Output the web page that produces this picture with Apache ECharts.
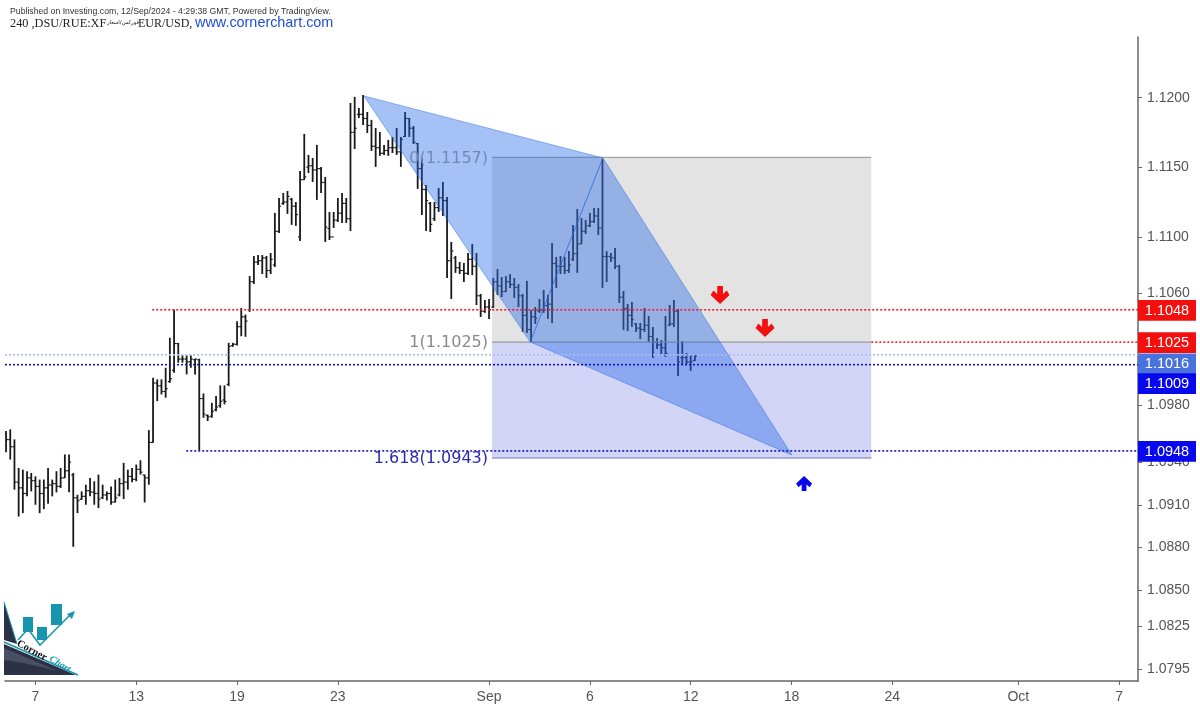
<!DOCTYPE html>
<html>
<head>
<meta charset="utf-8">
<style>html,body{margin:0;padding:0;background:#fff}#chart{width:1200px;height:709px}</style>
<script src="https://cdn.jsdelivr.net/npm/echarts@6/dist/echarts.min.js"></script>
</head>
<body>
<div id="chart"></div>
<script>
// 4h bars (bar number = trading slot on the time axis)
var opens = [
	1.09600,1.09560,1.09510,1.09260,1.09220,1.09180,1.09290,1.09270,1.09230,1.09180,
	1.09220,1.09240,1.09250,1.09230,1.09290,1.09340,1.09310,1.09150,1.09140,1.09160,
	1.09200,1.09190,1.09180,1.09150,1.09170,1.09180,1.09120,1.09170,1.09250,1.09260,
	1.09300,1.09280,1.09350,1.09310,1.09290,1.09540,1.09960,1.09940,1.09900,1.09970,
	1.10050,1.10240,1.10130,1.10130,1.10110,1.10125,1.10125,1.09850,1.09730,1.09725,
	1.09770,1.09800,1.09840,1.09950,1.10225,1.10235,1.10360,1.10430,1.10480,1.10680,
	1.10820,1.10830,1.10850,1.10760,1.10800,1.11040,1.11240,1.11250,1.11270,1.11220,
	1.11000,1.11410,1.11500,1.11510,1.11480,1.11490,1.11390,1.11060,1.11000,1.11120,
	1.11170,1.11240,1.11130,1.11750,1.11880,1.11880,1.11850,1.11800,1.11650,1.11640,
	1.11600,1.11620,1.11640,1.11640,1.11610,1.11720,1.11850,1.11780,1.11670,1.11490,
	1.11340,1.11240,1.11130,1.11210,1.11280,1.11260,1.10830,1.10850,1.10780,1.10760,
	1.10740,1.10840,1.10790,1.10580,1.10470,1.10500,1.10500,1.10680,1.10650,1.10610,
	1.10680,1.10660,1.10640,1.10580,1.10440,1.10340,1.10430,1.10470,1.10480,1.10510,
	1.10520,1.10810,1.10790,1.10790,1.10760,1.10840,1.10880,1.10950,1.11040,1.11080,
	1.11110,1.11150,1.11065,1.10860,1.10860,1.10850,1.10790,1.10570,1.10490,1.10440,
	1.10380,1.10350,1.10340,1.10370,1.10290,1.10250,1.10230,1.10210,1.10370,1.10380,
	1.10470,1.10140,1.10140,1.10110,1.10120
];
var highs = [
	1.09620,1.09632,1.09561,1.09360,1.09348,1.09337,1.09325,1.09301,1.09278,1.09278,
	1.09360,1.09278,1.09337,1.09360,1.09455,1.09455,1.09325,1.09171,1.09195,1.09242,
	1.09289,1.09266,1.09313,1.09242,1.09195,1.09230,1.09278,1.09289,1.09396,1.09348,
	1.09360,1.09384,1.09414,1.09313,1.09627,1.09997,1.09986,1.09986,1.10068,1.10281,
	1.10481,1.10245,1.10156,1.10156,1.10156,1.10132,1.10132,1.09886,1.09738,1.09820,
	1.09868,1.09943,1.09943,1.10245,1.10245,1.10399,1.10493,1.10446,1.10721,1.10864,
	1.10871,1.10871,1.10864,1.10885,1.11172,1.11279,1.11315,1.11329,1.11279,1.11250,
	1.11473,1.11739,1.11588,1.11566,1.11660,1.11502,1.11430,1.11179,1.11179,1.11279,
	1.11315,1.11279,1.11962,1.12006,1.11926,1.12020,1.11897,1.11840,1.11782,1.11753,
	1.11660,1.11696,1.11717,1.11782,1.11717,1.11897,1.11854,1.11796,1.11674,1.11566,
	1.11372,1.11250,1.11250,1.11351,1.11394,1.11286,1.10964,1.10864,1.10821,1.10814,
	1.10885,1.10950,1.10885,1.10593,1.10550,1.10557,1.10707,1.10771,1.10714,1.10721,
	1.10735,1.10707,1.10664,1.10593,1.10686,1.10479,1.10500,1.10557,1.10621,1.10586,
	1.10957,1.10857,1.10864,1.10857,1.10899,1.11086,1.11200,1.11135,1.11121,1.11172,
	1.11207,1.11207,1.11559,1.10899,1.10885,1.10921,1.10800,1.10614,1.10522,1.10536,
	1.10386,1.10386,1.10493,1.10436,1.10358,1.10280,1.10265,1.10436,1.10514,1.10550,
	1.10486,1.10258,1.10173,1.10159,1.10159
];
var lows = [
	1.09471,1.09419,1.09207,1.09018,1.09042,1.09160,1.09195,1.09101,1.09042,1.09070,
	1.09108,1.09160,1.09188,1.09219,1.09289,1.09188,1.08806,1.09042,1.09136,1.09101,
	1.09160,1.09101,1.09077,1.09141,1.09131,1.09101,1.09117,1.09160,1.09141,1.09207,
	1.09259,1.09266,1.09313,1.09117,1.09242,1.09537,1.09832,1.09879,1.09856,1.09962,
	1.10033,1.10104,1.10104,1.10021,1.10068,1.10021,1.09485,1.09714,1.09691,1.09714,
	1.09761,1.09785,1.09809,1.09938,1.10217,1.10226,1.10292,1.10288,1.10465,1.10664,
	1.10800,1.10735,1.10707,1.10735,1.10785,1.11028,1.11229,1.11165,1.11086,1.11079,
	1.10971,1.11408,1.11458,1.11394,1.11265,1.11315,1.10964,1.10978,1.11064,1.11107,
	1.11100,1.11100,1.11042,1.11631,1.11854,1.11804,1.11746,1.11617,1.11502,1.11581,
	1.11588,1.11581,1.11602,1.11588,1.11502,1.11717,1.11717,1.11667,1.11344,1.11157,
	1.11042,1.11035,1.11114,1.11179,1.11150,1.10707,1.10557,1.10743,1.10735,1.10678,
	1.10728,1.10728,1.10514,1.10429,1.10458,1.10415,1.10493,1.10586,1.10571,1.10607,
	1.10636,1.10564,1.10500,1.10322,1.10315,1.10251,1.10379,1.10458,1.10458,1.10415,
	1.10386,1.10636,1.10735,1.10735,1.10743,1.10828,1.10743,1.10950,1.11021,1.11071,
	1.11100,1.11014,1.10636,1.10678,1.10821,1.10771,1.10529,1.10336,1.10329,1.10358,
	1.10322,1.10272,1.10322,1.10251,1.10138,1.10202,1.10166,1.10145,1.10365,1.10358,
	1.10010,1.10095,1.10095,1.10046,1.10116
];
var closes = [
	1.09560,1.09510,1.09260,1.09220,1.09180,1.09290,1.09270,1.09230,1.09180,1.09220,
	1.09240,1.09250,1.09230,1.09290,1.09340,1.09400,1.09150,1.09130,1.09160,1.09200,
	1.09190,1.09180,1.09140,1.09170,1.09180,1.09120,1.09150,1.09250,1.09260,1.09300,
	1.09280,1.09350,1.09330,1.09290,1.09540,1.09960,1.09940,1.09900,1.09920,1.09990,
	1.10240,1.10130,1.10130,1.10110,1.10130,1.10130,1.09850,1.09740,1.09720,1.09760,
	1.09790,1.09830,1.09830,1.10220,1.10235,1.10360,1.10430,1.10400,1.10680,1.10820,
	1.10830,1.10850,1.10760,1.10840,1.11040,1.11220,1.11250,1.11290,1.11220,1.11160,
	1.11410,1.11430,1.11510,1.11480,1.11490,1.11390,1.11070,1.11000,1.11120,1.11170,
	1.11240,1.11130,1.11750,1.11780,1.11880,1.11850,1.11800,1.11650,1.11640,1.11600,
	1.11620,1.11640,1.11640,1.11610,1.11700,1.11850,1.11780,1.11680,1.11490,1.11340,
	1.11260,1.11090,1.11210,1.11280,1.11260,1.10830,1.10900,1.10780,1.10760,1.10740,
	1.10840,1.10790,1.10580,1.10470,1.10500,1.10480,1.10680,1.10650,1.10610,1.10680,
	1.10660,1.10640,1.10580,1.10440,1.10340,1.10430,1.10420,1.10480,1.10510,1.10520,
	1.10810,1.10790,1.10790,1.10760,1.10800,1.10880,1.10950,1.11040,1.11080,1.11110,
	1.11150,1.11065,1.10860,1.10860,1.10850,1.10790,1.10570,1.10490,1.10440,1.10410,
	1.10350,1.10340,1.10370,1.10290,1.10250,1.10230,1.10210,1.10170,1.10380,1.10470,
	1.10110,1.10140,1.10110,1.10110,1.10150
];

// axis ticks
var xTickSlots = [7, 31, 55, 79, 115, 139, 163, 187, 211, 241, 265];
var xTickLabels = ['7', '13', '19', '23', 'Sep', '6', '12', '18', '24', 'Oct', '7'];
var yTickValues = [1.12, 1.115, 1.11, 1.106, 1.098, 1.094, 1.091, 1.088, 1.085, 1.0825, 1.0795];

// fib box
var fibLevels = [1.1157, 1.1025, 1.0943];
var fibTexts = ['0(1.1157)', '1(1.1025)', '1.618(1.0943)'];
var fibSlots = [115.7, 206];

// harmonic pattern triangles
var triangleSlots = [[85.2, 142.1, 124.8], [124.8, 142.1, 187.1]];
var trianglePrices = [[1.12013, 1.11566, 1.10251], [1.10251, 1.11566, 1.09451]];

// levels
var levelPrices = [1.1048, 1.1025, 1.1016, 1.1009, 1.0948];
var levelStarts = [34.8, 206, -0.25, -0.25, 42.9];
var levelColors = ['#e8202a', '#e8202a', '#a9bff0', '#1515b5', '#1515b5'];
var tagColors = ['#f40f0f', '#f40f0f', '#4a72dc', '#0808ee', '#0808ee'];
var tagShifts = [0.5, 0.5, 9, 19, 0.5];

// arrows
var downArrowSlots = [170, 180.7];
var downArrowPrices = [1.10585, 1.1035];
var upArrowSlots = [190];
var upArrowPrices = [1.0925];

var xMin = -0.25;
var xMax = 269.5;
var fontSans = '"Liberation Sans", Arial, sans-serif';

var chart = echarts.init(document.getElementById('chart'), null, { renderer: 'canvas' });

var barRows = opens.map(function (o, i) {
	return [i, o, highs[i], lows[i], closes[i]];
});

// OHLC bar
function renderBar(params, api) {
	var x = api.value(0);
	var o = api.coord([x, api.value(1)]);
	var h = api.coord([x, api.value(2)]);
	var l = api.coord([x, api.value(3)]);
	var c = api.coord([x, api.value(4)]);
	return {
		type: 'group',
		children: [
			{ type: 'line', shape: { x1: h[0], y1: h[1], x2: l[0], y2: l[1] }, style: { stroke: '#1a1a1a', lineWidth: 1.8 } },
			{ type: 'line', shape: { x1: o[0] - 2, y1: o[1], x2: o[0], y2: o[1] }, style: { stroke: '#1a1a1a', lineWidth: 1.2 } },
			{ type: 'line', shape: { x1: c[0], y1: c[1], x2: c[0] + 2, y2: c[1] }, style: { stroke: '#1a1a1a', lineWidth: 1.2 } }
		]
	};
}

function renderFibBox(params, api) {
	var tl = api.coord([fibSlots[0], fibLevels[0]]);
	var ml = api.coord([fibSlots[0], fibLevels[1]]);
	var br = api.coord([fibSlots[1], fibLevels[2]]);
	var edge = function (y, color) {
		return { type: 'line', shape: { x1: tl[0], y1: y, x2: br[0], y2: y }, style: { stroke: color, lineWidth: 1.3 } };
	};
	return {
		type: 'group',
		children: [
			{ type: 'rect', shape: { x: tl[0], y: tl[1], width: br[0] - tl[0], height: ml[1] - tl[1] }, style: { fill: 'rgba(128,128,128,0.22)' } },
			{ type: 'rect', shape: { x: tl[0], y: ml[1], width: br[0] - tl[0], height: br[1] - ml[1] }, style: { fill: 'rgba(70,80,220,0.24)' } },
			edge(tl[1], '#a3a3a3'),
			edge(ml[1], '#9a9a9a'),
			edge(br[1], '#9898d4')
		]
	};
}

function renderFibText(params, api) {
	var i = params.dataIndex;
	var p = api.coord([fibSlots[0], fibLevels[i]]);
	var colors = ['#7389b5', '#8a8a8a', '#2a2ab0'];
	return {
		type: 'text',
		style: {
			x: p[0] - 4, y: p[1] + 1, text: fibTexts[i], align: 'right', verticalAlign: 'middle',
			font: '16px "DejaVu Sans", sans-serif', fill: colors[i]
		}
	};
}

function renderTriangle(params, api) {
	var i = params.dataIndex;
	var pts = triangleSlots[i].map(function (s, k) {
		return api.coord([s, trianglePrices[i][k]]);
	});
	return {
		type: 'polygon',
		shape: { points: pts },
		style: { fill: 'rgba(33,100,230,0.4)', stroke: 'rgba(33,100,230,0.45)', lineWidth: 1 }
	};
}

// price tag on the right axis
function renderTag(params, api) {
	var i = params.dataIndex;
	var p = api.coord([xMax, levelPrices[i]]);
	var cy = p[1] + tagShifts[i];
	return {
		type: 'group',
		children: [
			{ type: 'rect', shape: { x: p[0], y: cy - 10.4, width: 58, height: 20.8 }, style: { fill: tagColors[i] } },
			{
				type: 'text',
				style: {
					x: p[0] + 29, y: cy + 0.5, text: levelPrices[i].toFixed(4), align: 'center', verticalAlign: 'middle',
					font: '14.5px ' + fontSans, fill: '#ffffff'
				}
			}
		]
	};
}

var series = [
	{
		type: 'custom', name: 'EUR/USD', renderItem: renderBar, data: barRows, z: 2,
		encode: { x: 0, y: [1, 2, 3, 4] }, clip: true
	},
	{ type: 'custom', renderItem: renderFibBox, data: [0], z: 3, silent: true },
	{ type: 'custom', renderItem: renderFibText, data: fibLevels.map(function (v, i) { return i; }), z: 6, silent: true },
	{ type: 'custom', renderItem: renderTriangle, data: triangleSlots.map(function (v, i) { return i; }), z: 4, silent: true }
];

// dotted levels
levelPrices.forEach(function (price, i) {
	series.push({
		type: 'line', z: 5, silent: true, showSymbol: false, animation: false,
		lineStyle: { color: levelColors[i], width: 1.6, type: [2, 2] },
		data: [[levelStarts[i], price], [xMax, price]]
	});
});

series.push({ type: 'custom', renderItem: renderTag, data: levelPrices.map(function (v, i) { return i; }), z: 8, silent: true, clip: false });

var downPath = 'path://M7,0 L13,0 L13,8 L17,4.5 L20,9 L10,18 L0,9 L3,4.5 L7,8 Z';
var upPath = 'path://M7,18 L13,18 L13,10 L17,13.5 L20,9 L10,0 L0,9 L3,13.5 L7,10 Z';
series.push({
	type: 'scatter', symbol: downPath, symbolSize: [19, 18], z: 7, silent: true,
	itemStyle: { color: '#f40f0f', opacity: 1 },
	data: downArrowSlots.map(function (s, i) { return [s, downArrowPrices[i]]; })
});
series.push({
	type: 'scatter', symbol: upPath, symbolSize: [16, 15], z: 7, silent: true,
	itemStyle: { color: '#0808ee', opacity: 1 },
	data: upArrowSlots.map(function (s, i) { return [s, upArrowPrices[i]]; })
});

var option = {
	backgroundColor: '#ffffff',
	animation: false,
	grid: { left: 5, right: 62, top: 37, bottom: 28 },
	xAxis: {
		type: 'value',
		min: xMin,
		max: xMax,
		splitLine: { show: false },
		axisLine: { onZero: false, lineStyle: { color: '#666666', width: 1.5 } },
		axisTick: { length: 4, customValues: xTickSlots, lineStyle: { color: '#666666' } },
		axisLabel: {
			customValues: xTickSlots,
			margin: 9,
			color: '#555555',
			fontSize: 14,
			fontFamily: fontSans,
			formatter: function (v) {
				return xTickLabels[xTickSlots.indexOf(v)];
			}
		}
	},
	yAxis: {
		type: 'log',
		position: 'right',
		min: 1.07869,
		max: 1.12439,
		splitLine: { show: false },
		axisLine: { show: true, onZero: false, lineStyle: { color: '#666666', width: 1.5 } },
		axisTick: { show: true, length: 4, customValues: yTickValues, lineStyle: { color: '#666666' } },
		axisLabel: {
			customValues: yTickValues,
			margin: 9,
			padding: [2, 0, 0, 0],
			color: '#555555',
			fontSize: 14,
			fontFamily: fontSans,
			formatter: function (v) {
				return Number(v).toFixed(4);
			}
		}
	},
	series: series,
	graphic: [
		{ type: 'text', left: 10, top: 7, style: { text: 'Published on Investing.com, 12/Sep/2024 - 4:29:38 GMT, Powered by TradingView.', font: '8.7px ' + fontSans, fill: '#333333' } },
		{ type: 'text', left: 10, top: 18, style: { text: '240 ,DSU/RUE:XF', font: '12.3px "Liberation Serif", serif', fill: '#222222' } },
		{ type: 'text', left: 107, top: 20, style: { text: '\u0641\u0648\u0631\u0643\u0633/\u0627\u0633\u0639\u0627\u0631', font: '5.4px "DejaVu Sans", sans-serif', fill: '#222222' } },
		{ type: 'text', left: 138, top: 18, style: { text: 'EUR/USD,', font: '12px "Liberation Serif", serif', fill: '#222222' } },
		{ type: 'text', left: 195, top: 16, style: { text: 'www.cornerchart.com', font: '14.4px ' + fontSans, fill: '#1d4fd1' } },
		// logo
		{ type: 'polygon', z: 9, shape: { points: [[4, 602], [17, 644], [4, 640]] }, style: { fill: '#2d3145' } },
		{ type: 'polygon', z: 9, shape: { points: [[4, 644], [76, 675], [4, 675]] }, style: { fill: '#2d3145' } },
		{ type: 'polygon', z: 9, shape: { points: [[4, 648], [58, 671], [24, 663], [4, 660]] }, style: { fill: '#4a4e62' } },
		{ type: 'polyline', z: 9, shape: { points: [[4, 642], [78, 675]] }, style: { stroke: '#1596ad', lineWidth: 1.6 } },
		{ type: 'polyline', z: 9, shape: { points: [[4, 602], [17, 644]] }, style: { stroke: '#1596ad', lineWidth: 1 } },
		{ type: 'rect', z: 9, shape: { x: 23, y: 617, width: 10, height: 15 }, style: { fill: '#1596ad' } },
		{ type: 'rect', z: 9, shape: { x: 37, y: 627, width: 10, height: 13 }, style: { fill: '#1596ad' } },
		{ type: 'rect', z: 9, shape: { x: 51, y: 604, width: 11, height: 21 }, style: { fill: '#1596ad' } },
		{ type: 'polyline', z: 10, shape: { points: [[18, 640], [28, 629], [40, 645], [72, 613]] }, style: { stroke: '#1596ad', lineWidth: 1.5, fill: 'none' } },
		{ type: 'polygon', z: 10, shape: { points: [[75, 611], [72, 619], [67, 614]] }, style: { fill: '#1596ad' } },
		{ type: 'text', z: 11, x: 20, y: 638, rotation: -0.49, style: { text: 'Corner', font: 'bold 10.5px "Liberation Serif", serif', fill: '#111111' } },
		{ type: 'text', z: 11, x: 53, y: 654, rotation: -0.55, style: { text: 'Chart', font: 'italic bold 9.5px "Liberation Serif", serif', fill: '#1596ad' } }
	]
};

// draw
chart.setOption(option);
</script>
</body>
</html>
